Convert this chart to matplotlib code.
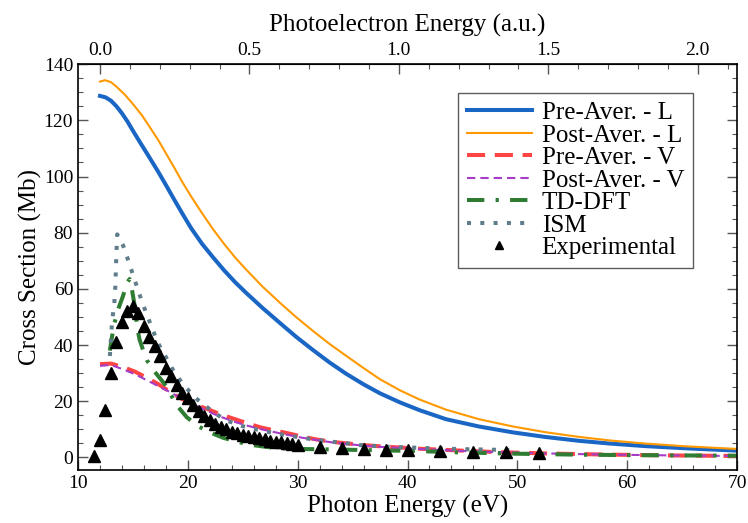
import numpy as np
import matplotlib
matplotlib.use("Agg")
import matplotlib.pyplot as plt
from matplotlib.ticker import MultipleLocator, FixedLocator, FormatStrFormatter

plt.rcParams['font.family'] = ['Liberation Serif', 'DejaVu Serif']

# ionisation threshold (eV) and hartree (eV) for the photoelectron energy axis
IP = 12.0
HARTREE = 27.211

# length gauge, pre- and post-averaged
pre_L_e = [12.0, 12.5, 13.0, 13.5, 14.0, 14.5, 15.0, 15.8, 16.5, 17.3, 18.0, 18.8,
           19.5, 20.3, 21.3, 22.3, 23.3, 24.3, 25.3, 26.8, 28.4, 29.9, 31.4, 32.9,
           34.4, 36.0, 37.5, 39.3, 41.1, 43.5, 46.5, 49.6, 52.5, 55.6, 58.5, 61.7,
           65.5, 70.0]
pre_L = [128.7, 128.2, 127.0, 125.0, 122.5, 119.6, 116.3, 111.2, 106.8, 101.7, 97.0, 91.5,
         86.8, 81.6, 76.0, 71.2, 66.6, 62.4, 58.6, 53.2, 47.8, 42.8, 38.2, 33.8,
         29.8, 26.0, 22.8, 19.6, 16.8, 13.6, 11.0, 8.9, 7.3, 5.9, 4.9, 4.0,
         3.2, 2.4]

post_L_e = [12.0, 12.45, 13.0, 13.5, 14.3, 15.0, 15.8, 16.5, 17.3, 18.0, 18.8, 19.5,
            20.3, 21.3, 22.3, 23.3, 24.3, 25.3, 26.8, 28.4, 29.9, 31.4, 32.9, 34.4,
            36.0, 37.5, 39.3, 41.1, 43.5, 46.5, 49.6, 52.5, 55.6, 58.5, 61.7, 65.5,
            70.0]
post_L = [133.8, 134.3, 133.6, 132.0, 129.0, 125.8, 121.9, 117.8, 113.0, 108.3, 102.9, 98.0,
          92.9, 86.9, 81.2, 76.0, 71.2, 66.9, 60.8, 55.0, 49.8, 45.0, 40.4, 36.2,
          31.8, 27.8, 23.9, 20.6, 17.0, 13.6, 11.0, 9.0, 7.3, 6.0, 4.9, 3.9,
          3.0]

# velocity gauge, pre- and post-averaged
pre_V_e = [12.0, 13.0, 14.0, 15.2, 16.3, 17.3, 18.4, 19.4, 20.5, 21.85, 23.0, 24.3,
           25.5, 26.7, 28.0, 29.1, 30.4, 31.7, 33.0, 34.4, 36.2, 38.1, 41.0, 45.0,
           48.0, 52.6, 58.0, 64.0, 70.0]
pre_V = [33.2, 33.4, 32.3, 30.5, 28.3, 26.1, 23.3, 20.9, 19.0, 17.1, 15.3, 13.6,
         12.0, 10.6, 9.5, 8.6, 7.4, 6.4, 5.6, 5.0, 4.3, 3.8, 3.1, 2.4,
         1.9, 1.4, 1.0, 0.7, 0.5]

post_V_e = [12.0, 13.0, 14.0, 15.2, 16.3, 17.3, 18.2, 19.3, 20.3, 21.5, 22.75, 24.3,
            25.5, 26.7, 28.0, 29.1, 30.4, 31.7, 33.0, 34.4, 36.2, 38.1, 41.0, 45.0,
            48.0, 52.6, 58.0, 64.0, 70.0]
post_V = [32.6, 32.9, 31.5, 29.6, 27.4, 25.4, 23.6, 21.3, 19.5, 17.0, 14.8, 12.6,
          11.2, 10.0, 8.9, 8.0, 7.0, 6.2, 5.4, 4.8, 4.1, 3.6, 3.0, 2.3,
          1.9, 1.4, 1.0, 0.7, 0.5]

tddft_e = [12.9, 13.1, 13.3, 13.66, 14.1, 14.5, 14.7, 14.9, 15.2, 15.4, 15.6, 15.9,
           16.3, 17.0, 17.5, 18.0, 18.5, 19.0, 19.9, 20.9, 22.0, 23.2, 24.3, 25.5,
           26.8, 28.1, 30.0, 33.5, 37.5, 40.5, 44.5, 50.0, 55.0, 60.0, 65.0, 70.0]
tddft = [38.0, 43.0, 47.5, 52.8, 57.5, 62.4, 63.5, 60.0, 53.0, 46.0, 42.0, 38.5,
         34.4, 30.4, 28.0, 25.5, 22.0, 18.5, 14.3, 11.2, 8.9, 7.0, 5.8, 4.6,
         3.9, 3.3, 3.0, 2.8, 2.5, 2.3, 1.8, 1.3, 1.0, 0.8, 0.7, 0.6]

ism_e = [12.9, 13.0, 13.1, 13.3, 13.4, 13.45, 13.5, 13.57, 14.1, 14.6, 15.1, 15.6,
         16.15, 16.75, 17.3, 18.1, 18.8, 19.8, 20.9, 22.2, 23.4, 24.9, 26.4, 27.9,
         29.4, 30.9, 32.5, 34.1, 35.6, 37.2, 38.7, 40.4, 42.5, 45.5, 49.5]
ism = [36.1, 42.3, 48.4, 54.6, 61.0, 67.1, 73.3, 79.4, 75.5, 69.8, 63.9, 58.0,
       52.0, 45.9, 40.6, 35.0, 30.0, 24.9, 20.5, 16.5, 13.3, 11.2, 9.8, 8.6,
       7.6, 6.7, 5.8, 5.2, 4.4, 4.0, 3.7, 3.5, 3.2, 2.9, 2.6]

exp_e = [11.5, 12.0, 12.5, 13.0, 13.5, 14.0, 14.5, 15.0, 15.5, 16.0, 16.5, 17.0,
         17.5, 18.0, 18.5, 19.0, 19.5, 20.0, 20.5, 21.0, 21.5, 22.0, 22.5, 23.0,
         23.5, 24.0, 24.5, 25.0, 25.5, 26.0, 26.5, 27.0, 27.5, 28.0, 28.5, 29.0,
         29.5, 30.0, 32.0, 34.0, 36.0, 38.0, 40.0, 43.0, 46.0, 49.0, 52.0]
exp_cs = [0.5, 6.2, 16.8, 30.2, 41.0, 48.1, 52.0, 53.8, 51.3, 46.9, 43.0, 39.8,
          36.0, 31.8, 29.0, 25.7, 23.1, 21.1, 18.6, 16.5, 14.8, 13.3, 11.8, 10.8,
          10.0, 9.2, 8.6, 8.1, 7.6, 7.2, 6.8, 6.4, 6.0, 5.6, 5.3, 5.0,
          4.7, 4.4, 3.8, 3.2, 2.9, 2.7, 2.5, 2.3, 2.0, 1.9, 1.4]

top_ticks = [0.0, 0.5, 1.0, 1.5, 2.0]

fig = plt.figure(figsize=(7.48, 5.23), dpi=100)
ax = fig.add_axes([0.1043, 0.1013, 0.881, 0.776])

ax.plot(pre_L_e, pre_L, color='#1a66c4', lw=2.9, label='Pre-Aver. - L')
ax.plot(post_L_e, post_L, color='#ff9900', lw=1.5, label='Post-Aver. - L')
ax.plot(pre_V_e, pre_V, color='#ff4444', lw=2.9, dashes=(4.5, 2.4),
        dash_capstyle='butt', label='Pre-Aver. - V')
ax.plot(post_V_e, post_V, color='#a63cc8', lw=1.5, dashes=(4.0, 2.4),
        label='Post-Aver. - V')
ax.plot(tddft_e, tddft, color='#2e7d32', lw=2.9, dashes=(4.3, 2.8, 0.8, 2.8),
        label='TD-DFT')
ax.plot(ism_e, ism, color='#607d8b', lw=2.9, dashes=(1.0, 2.3),
        label='ISM')
ax.plot(exp_e, exp_cs, 'k^', ms=8, ls='none', label='Experimental')

ax.set_xlim(10, 70)
ax.set_ylim(-4.5, 140)
ax.xaxis.set_major_locator(MultipleLocator(10))
ax.xaxis.set_minor_locator(MultipleLocator(2))
ax.yaxis.set_major_locator(MultipleLocator(20))
ax.yaxis.set_minor_locator(MultipleLocator(5))
ax.tick_params(which='both', direction='in', right=True, top=False,
               labelsize=14, color='#555555')
ax.tick_params(which='major', length=7, width=1)
ax.tick_params(which='minor', length=3.5, width=0.8)
for sp in ax.spines.values():
    sp.set_linewidth(1.2)

ax.set_xlabel('Photon Energy (eV)', fontsize=18, labelpad=2)
ax.set_ylabel('Cross Section (Mb)', fontsize=18, labelpad=1)

# photoelectron energy in atomic units along the top
top = ax.secondary_xaxis('top', functions=(lambda e: (e - IP) / HARTREE,
                                           lambda a: a * HARTREE + IP))
top.xaxis.set_major_locator(FixedLocator(top_ticks))
top.xaxis.set_minor_locator(FixedLocator(np.arange(0.0, 2.15, 0.1)))
top.xaxis.set_major_formatter(FormatStrFormatter('%.1f'))
top.tick_params(which='both', direction='in', labelsize=14, color='#555555')
top.tick_params(which='major', length=7, width=1)
top.tick_params(which='minor', length=3.5, width=0.8)
top.set_xlabel('Photoelectron Energy (a.u.)', fontsize=18, labelpad=8)

leg = ax.legend(loc='upper right', bbox_to_anchor=(0.933, 0.929),
                borderaxespad=0, fontsize=18, frameon=True, fancybox=False,
                edgecolor='#333333', handlelength=2.6, handletextpad=0.4,
                labelspacing=0.0, borderpad=0.35, markerscale=0.75)
leg.get_frame().set_linewidth(1.0)

fig.savefig('out.png', dpi=100)
